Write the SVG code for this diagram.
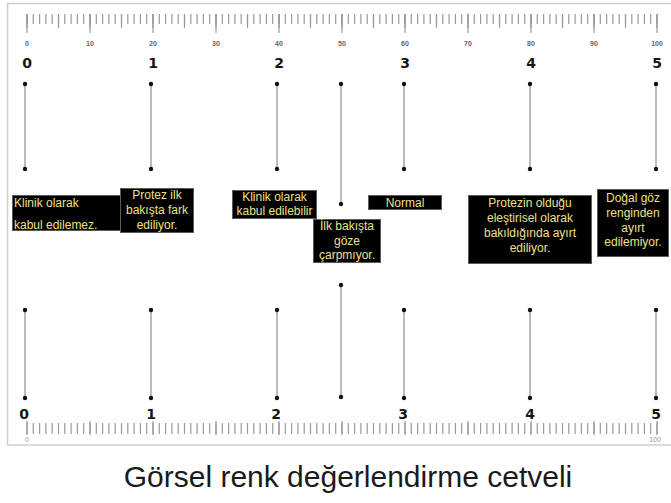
<svg xmlns="http://www.w3.org/2000/svg" width="671" height="503" viewBox="0 0 671 503">
  <style>
    .frame { fill: #ffffff; stroke: #cfcfcf; stroke-width: 1.5; }
    .tick { fill: none; stroke: #9a9a9a; }
    .scale { font-family: "Liberation Sans", Arial, sans-serif; font-size: 7px; font-weight: bold; fill: #666; text-anchor: middle; }
    .scale-lo { font-family: "Liberation Sans", Arial, sans-serif; font-size: 7px; fill: #999; text-anchor: middle; }
    .grade { font-family: "DejaVu Sans", "Liberation Sans", sans-serif; font-size: 14px; font-weight: bold; fill: #151515; text-anchor: middle; }
    .link { stroke: #b3b3b3; stroke-width: 1.8; fill: none; marker-start: url(#dot); marker-end: url(#dot); }
    .box { fill: #000000; stroke: #5a5a5a; stroke-width: 1; }
    .lbl { font-family: "Liberation Sans", Arial, sans-serif; font-size: 12px; fill: #ece08c; text-anchor: middle; }
    .lbl-left { font-family: "Liberation Sans", Arial, sans-serif; font-size: 12px; fill: #ece08c; text-anchor: start; }
    .title { font-family: "Liberation Sans", Arial, sans-serif; font-size: 30px; fill: #1a1a1a; text-anchor: middle; }
  </style>
  <defs>
    <marker id="dot" viewBox="0 0 6 6" refX="3" refY="3" markerWidth="6" markerHeight="6" markerUnits="userSpaceOnUse">
      <circle cx="3" cy="3" r="2.2" fill="#111"/>
    </marker>
  </defs>

  <rect class="frame" x="7.5" y="3.5" width="700" height="441.5"/>

  <!-- top scale 0..100 -->
  <g id="top-scale">
    <line class="tick" x1="26.4" y1="19" x2="657.6" y2="19" stroke-width="10" stroke-dasharray="1.2 5.1"/>
    <line class="tick" x1="26.4" y1="21" x2="657.6" y2="21" stroke-width="14" stroke-dasharray="1.2 30.3"/>
    <line class="tick" x1="26.4" y1="23.5" x2="657.6" y2="23.5" stroke-width="19" stroke-dasharray="1.2 61.8"/>
    <text class="scale" x="27" y="46">0</text>
    <text class="scale" x="90" y="46">10</text>
    <text class="scale" x="153" y="46">20</text>
    <text class="scale" x="216" y="46">30</text>
    <text class="scale" x="279" y="46">40</text>
    <text class="scale" x="342" y="46">50</text>
    <text class="scale" x="405" y="46">60</text>
    <text class="scale" x="468" y="46">70</text>
    <text class="scale" x="531" y="46">80</text>
    <text class="scale" x="594" y="46">90</text>
    <text class="scale" x="657" y="46">100</text>
    <text class="grade" x="27" y="68">0</text>
    <text class="grade" x="153" y="68">1</text>
    <text class="grade" x="279" y="68">2</text>
    <text class="grade" x="405" y="68">3</text>
    <text class="grade" x="531" y="68">4</text>
    <text class="grade" x="657" y="68">5</text>
  </g>

  <!-- bottom scale -->
  <g id="bottom-scale">
    <line class="tick" x1="26.4" y1="428.5" x2="657.6" y2="428.5" stroke-width="11" stroke-dasharray="1.2 5.1"/>
    <line class="tick" x1="26.4" y1="428" x2="657.6" y2="428" stroke-width="14" stroke-dasharray="1.2 61.8"/>
    <text class="scale-lo" x="27" y="442">0</text>
    <text class="scale-lo" x="655" y="442">100</text>
    <text class="grade" x="24" y="419">0</text>
    <text class="grade" x="151" y="419">1</text>
    <text class="grade" x="276" y="419">2</text>
    <text class="grade" x="403" y="419">3</text>
    <text class="grade" x="530" y="419">4</text>
    <text class="grade" x="656" y="419">5</text>
  </g>

  <!-- connectors -->
  <g id="connectors">
    <line class="link" x1="25" y1="84" x2="25" y2="169"/>
    <line class="link" x1="151" y1="84" x2="151" y2="169"/>
    <line class="link" x1="277" y1="84" x2="277" y2="169"/>
    <line class="link" x1="341" y1="84" x2="341" y2="204"/>
    <line class="link" x1="404" y1="84" x2="404" y2="169"/>
    <line class="link" x1="530" y1="84" x2="530" y2="169"/>
    <line class="link" x1="656" y1="84" x2="656" y2="169"/>

    <line class="link" x1="25" y1="310" x2="25" y2="398"/>
    <line class="link" x1="151" y1="310" x2="151" y2="398"/>
    <line class="link" x1="277" y1="310" x2="277" y2="398"/>
    <line class="link" x1="341" y1="285" x2="341" y2="397"/>
    <line class="link" x1="404" y1="310" x2="404" y2="398"/>
    <line class="link" x1="530" y1="310" x2="530" y2="398"/>
    <line class="link" x1="656" y1="310" x2="656" y2="398"/>
  </g>

  <!-- grade labels -->
  <g id="grade-0">
    <rect class="box" x="12.5" y="195.5" width="109" height="35"/>
    <text class="lbl-left" x="14" y="207">Klinik olarak</text>
    <text class="lbl-left" x="14" y="229">kabul edilemez.</text>
  </g>
  <g id="grade-1">
    <rect class="box" x="120.5" y="188.5" width="73" height="44"/>
    <text class="lbl" x="157" y="199">Protez ilk</text>
    <text class="lbl" x="157" y="214">bakışta fark</text>
    <text class="lbl" x="157" y="229">ediliyor.</text>
  </g>
  <g id="grade-2">
    <rect class="box" x="232.5" y="190.5" width="84" height="28"/>
    <text class="lbl" x="274.5" y="201">Klinik olarak</text>
    <text class="lbl" x="274.5" y="215">kabul edilebilir</text>
  </g>
  <g id="grade-2-5">
    <rect class="box" x="313.5" y="219.5" width="67" height="43"/>
    <text class="lbl" x="347" y="230">İlk bakışta</text>
    <text class="lbl" x="347" y="245">göze</text>
    <text class="lbl" x="347" y="259">çarpmıyor.</text>
  </g>
  <g id="grade-3">
    <rect class="box" x="368.5" y="195.5" width="73" height="14"/>
    <text class="lbl" x="405" y="207">Normal</text>
  </g>
  <g id="grade-4">
    <rect class="box" x="468.5" y="195.5" width="123" height="68"/>
    <text class="lbl" x="530" y="207">Protezin olduğu</text>
    <text class="lbl" x="530" y="222">eleştirisel olarak</text>
    <text class="lbl" x="530" y="237">bakıldığında ayırt</text>
    <text class="lbl" x="530" y="252">ediliyor.</text>
  </g>
  <g id="grade-5">
    <rect class="box" x="597.5" y="189.5" width="71" height="67"/>
    <text class="lbl" x="633" y="202">Doğal göz</text>
    <text class="lbl" x="633" y="217">renginden</text>
    <text class="lbl" x="633" y="232">ayırt</text>
    <text class="lbl" x="633" y="246">edilemiyor.</text>
  </g>

  <text class="title" x="348" y="487">Görsel renk değerlendirme cetveli</text>
</svg>
